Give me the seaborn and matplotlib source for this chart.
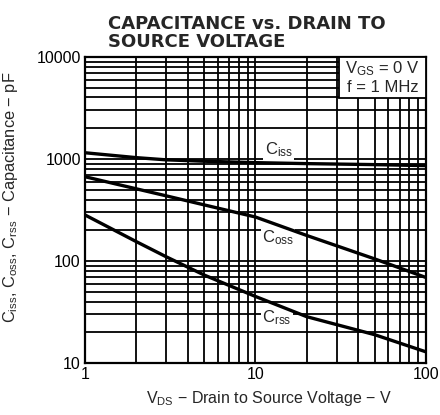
import matplotlib
matplotlib.use("Agg")
import matplotlib.pyplot as plt
from matplotlib.patches import Rectangle
from matplotlib.ticker import LogLocator, NullFormatter, FixedLocator
import numpy as np
import pandas as pd
import seaborn as sns

# values (pF vs V)
vds = [1, 2, 3, 5, 10, 20, 50, 100]
ciss = [1150, 1030, 980, 950, 920, 900, 880, 860]
coss = [670, 510, 435, 355, 270, 178, 105, 69]
crss = [283, 155, 110, 73, 45, 28.5, 19, 12.9]

x_ticks = [1, 10, 100]
y_ticks = [10, 100, 1000, 10000]

df = pd.DataFrame({
    "vds": vds * 3,
    "cap": ciss + coss + crss,
    "curve": ["Ciss"] * len(vds) + ["Coss"] * len(vds) + ["Crss"] * len(vds),
})

sns.set_style("white")
plt.rcParams['font.family'] = ['Liberation Sans', 'DejaVu Sans']
plt.rcParams['mathtext.fontset'] = 'custom'
plt.rcParams['mathtext.rm'] = 'Liberation Sans'
plt.rcParams['mathtext.it'] = 'Liberation Sans'

fig = plt.figure(figsize=(4.4, 4.15), dpi=100)
ax = fig.add_axes([0.193, 0.125, 0.775, 0.738])

ax.set_xscale("log")
ax.set_yscale("log")
ax.set_xlim(1, 100)
ax.set_ylim(10, 10000)

# grid: every 1..9 in each decade, plain black lines
xgrid = [m * 10 ** d for d in range(0, 2) for m in range(2, 10)] + [10]
ygrid = [m * 10 ** d for d in range(1, 4) for m in range(2, 10)] + [100, 1000]
for g in xgrid:
    ax.axvline(g, color="black", lw=1.3, zorder=1)
for g in ygrid:
    ax.axhline(g, color="black", lw=1.3, zorder=1)

sns.lineplot(data=df, x="vds", y="cap", units="curve", estimator=None,
             color="black", lw=2.4, ax=ax, zorder=3, legend=False)

ax.xaxis.set_major_locator(FixedLocator(x_ticks))
ax.yaxis.set_major_locator(FixedLocator(y_ticks))
ax.set_xticklabels([str(t) for t in x_ticks])
ax.set_yticklabels([str(t) for t in y_ticks])
ax.xaxis.set_minor_locator(LogLocator(subs="all"))
ax.xaxis.set_minor_formatter(NullFormatter())
ax.yaxis.set_minor_formatter(NullFormatter())
ax.tick_params(which="both", length=0, labelsize=11.5, pad=3, colors="black")
for s in ax.spines.values():
    s.set_color("black")
    s.set_linewidth(1.6)

box = dict(facecolor="white", edgecolor="none", pad=1.0)
ax.text(13.7, 1220, r"C$_\mathrm{iss}$", fontsize=12, ha="center", va="center",
        bbox=box, zorder=2)
ax.text(13.6, 170, r"C$_\mathrm{oss}$", fontsize=12, ha="center", va="center",
        bbox=box, zorder=2)
ax.text(13.4, 28, r"C$_\mathrm{rss}$", fontsize=12, ha="center", va="center",
        bbox=box, zorder=2)

# condition box in the top right corner
ax.add_patch(Rectangle((0.745, 0.866), 0.255, 0.134, transform=ax.transAxes,
                       facecolor="white", edgecolor="black", lw=1.3, zorder=5))
ax.text(0.8725, 0.933, "V$_\\mathrm{GS}$ = 0 V\nf = 1 MHz", transform=ax.transAxes,
        fontsize=12, ha="center", va="center", linespacing=1.2, zorder=6)

ax.set_xlabel(r"V$_\mathrm{DS}$ − Drain to Source Voltage − V", fontsize=11.5)
ax.xaxis.set_label_coords(0.54, -0.085)
ax.set_ylabel(r"C$_\mathrm{iss}$, C$_\mathrm{oss}$, C$_\mathrm{rss}$ − Capacitance − pF",
              fontsize=11.8)
ax.yaxis.set_label_coords(-0.19, 0.54)

fig.text(0.245, 0.965, "CAPACITANCE vs. DRAIN TO\nSOURCE VOLTAGE", fontsize=13,
         fontfamily="DejaVu Sans", fontweight="bold", ha="left", va="top",
         linespacing=1.0)

fig.savefig("out.png", dpi=100, facecolor="white")
